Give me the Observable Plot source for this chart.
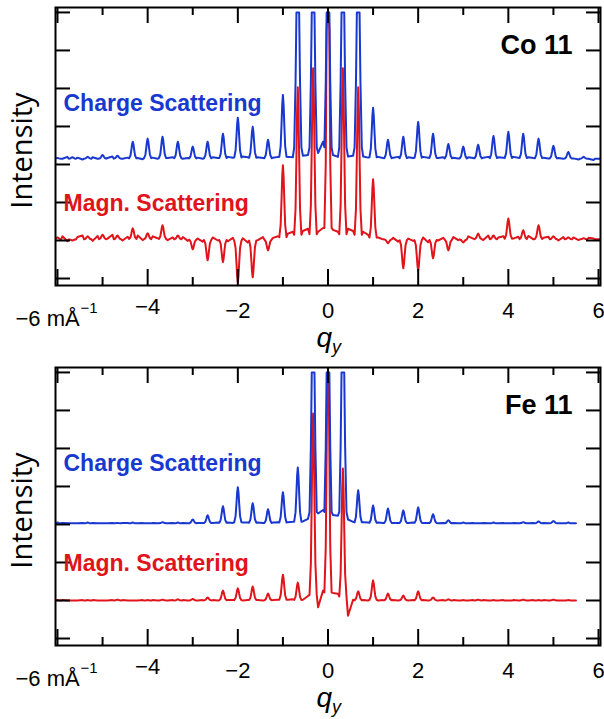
<!DOCTYPE html>
<html><head><meta charset="utf-8">
<script src="https://cdn.jsdelivr.net/npm/d3@7"></script>
<script src="https://cdn.jsdelivr.net/npm/@observablehq/plot@0.6"></script>
<style>body{margin:0;background:#fff;} #chart svg{display:block;}</style>
</head><body><div id="chart"></div>
<script>
// ---- data ----
// peak positions q_y (mÅ^-1), one every 1/3
const peakQ = [-6.00,-5.67,-5.33,-5.00,-4.67,-4.33,-4.00,-3.67,-3.33,-3.00,-2.67,-2.33,-2.00,-1.67,-1.33,-1.00,-0.67,-0.33,0.00,
  0.33,0.67,1.00,1.33,1.67,2.00,2.33,2.67,3.00,3.33,3.67,4.00,4.33,4.67,5.00,5.33,5.67,6.00];
// shared line shape of one peak: offsets in q and fraction of the peak height
const profileDx = [-0.08,-0.05,-0.03,-0.015,0,0.015,0.03,0.05,0.08];
const profileK  = [0.03,0.2,0.55,0.85,1,0.85,0.55,0.2,0.03];
const yTop = 7; // upper end of the plotted range (peaks are cut there)

// Co 11
const coChargeBase = 3.15;
const coChargeH = [0.02,0.04,0.05,0.10,0.08,0.45,0.53,0.58,0.45,0.32,0.45,0.66,1.08,0.84,0.50,1.68,10,10,10,10,10,
  1.34,0.50,0.58,0.97,0.66,0.39,0.32,0.37,0.60,0.71,0.66,0.53,0.34,0.18,0.05,0.00];
const coChargeGaps = [0.00,0.05, 0.03,-0.02, 0.04,0.00, 0.02,0.06, 0.00,0.03, 0.02,-0.01, 0.03,0.00, 0.02,0.04, 0.00,0.02,
  0.03,0.00, 0.04,0.02, 0.05,0.03, 0.06,0.04, 0.04,0.02, 0.03,0.05, 0.05,0.04, 0.08,0.10, 0.15,0.45, 0.10,0.05, 0.06,0.08,
  0.06,0.03, 0.05,0.02, 0.03,0.05, 0.04,0.02, 0.05,0.03, 0.02,0.04, 0.03,0.01, 0.04,0.02, 0.03,0.05, 0.04,0.03, 0.05,0.03,
  0.04,0.02, 0.03,0.01, 0.02,0.00, 0.01,-0.02, 0.00,-0.03];
const coMagnBase = 1.03;
const coMagnH = [0.05,-0.03,0.08,0.12,0.10,0.29,0.16,0.37,0.10,-0.26,-0.55,-0.60,-1.13,-1.00,-0.29,1.95,4.0,4.5,10,4.5,4.0,1.58,
  -0.10,-0.76,-0.82,-0.50,-0.29,-0.08,0.15,0.10,0.55,0.24,0.37,0.08,0.05,0.03,0.00];
const coMagnGaps = [0.08,-0.05, 0.06,0.10, -0.04,0.09, 0.02,0.12, -0.03,0.07, 0.10,-0.02, 0.08,0.03, -0.02,0.05, 0.06,-0.04,
  0.02,-0.06, 0.05,-0.03, -0.05,0.04, 0.03,-0.08, -0.02,0.06, 0.04,0.08, 0.15,0.20, 0.22,0.28, 0.20,0.30, 0.25,0.20, 0.28,0.22,
  0.20,0.12, 0.05,0.00, 0.04,-0.06, 0.02,-0.04, 0.05,-0.08, -0.03,0.04, 0.06,-0.02, 0.08,0.02, -0.02,0.10, 0.05,0.08, 0.02,0.07,
  0.09,0.00, 0.04,0.07, -0.03,0.06, 0.05,-0.02, 0.04,0.02];

// Fe 11
const feEndQ = 5.5;
const feChargeBase = 3.03;
const feChargeH = [0.02,0.00,0.02,0.00,0.01,0.02,0.00,0.03,0.02, 0.10,0.21,0.45,0.95,0.53,0.37,0.82,1.47, 10,10,10,
  0.87,0.47,0.39,0.34,0.42,0.24,0.08, 0.02,0.00,0.02,0.00,0.03,0.05,0.06,0.02];
const feChargeGaps = [0.01,0.00, 0.00,0.01, 0.01,0.00, 0.00,0.01, 0.01,0.01, 0.00,0.01, 0.01,0.00, 0.00,0.01, 0.01,0.00,
  0.01,0.01, 0.01,0.02, 0.02,0.01, 0.02,0.02, 0.02,0.01, 0.02,0.03, 0.03,0.04, 0.05,0.12, 0.26,0.35, 0.22,0.20, 0.10,0.04,
  0.03,0.02, 0.02,0.01, 0.01,0.01, 0.01,0.02, 0.01,0.01, 0.00,0.01, 0.01,0.00, 0.00,0.01, 0.01,0.00, 0.00,0.01, 0.01,0.00,
  0.00,0.01, 0.01,0.00, 0.00,0.00];
const feMagnBase = 1.0;
const feMagnH = [0.01,0.00,0.01,0.00,0.02,0.00,0.01,0.02,0.03, 0.04,0.08,0.26,0.32,0.37,0.18,0.68,0.47, 4.92,7.0,3.47,
  0.24,0.53,0.18,0.13,0.24,0.08,0.03, 0.01,0.02,0.01,0.00,0.02,0.01,0.02,0.01];
const feMagnGaps = [0.01,0.00, 0.00,0.01, 0.01,0.00, 0.00,0.01, 0.01,0.00, 0.00,0.01, 0.01,0.00, 0.00,0.01, 0.01,0.00,
  0.00,0.01, 0.01,0.00, 0.01,0.01, 0.00,0.01, 0.01,0.00, 0.01,0.02, 0.02,0.03, 0.02,0.12, -0.18,0.26, 0.20,0.18, -0.40,0.02,
  0.01,0.00, 0.00,0.01, 0.01,0.00, 0.00,0.01, 0.01,0.00, 0.00,0.01, 0.01,0.00, 0.00,0.01, 0.01,0.00, 0.00,0.01, 0.01,0.00,
  0.00,0.01, 0.01,0.00, 0.00,0.00];

// axes
const xMajorTicks = [-6,-4,-2,0,2,4,6];
const xMinorTicks = [-5,-3,-1,1,3,5];
const yTickValues = [0,1,2,3,4,5,6,7];
const xLabelValues = [-2,0,2,4,6];
const xLabelTexts = ["\u22122","0","2","4","6"];
const xLabelRaisedValue = [-4];
const xLabelRaisedText = ["\u22124"];
const unitLabel = ["\u22126 m\u00C5"];
const unitExp = ["\u22121"];
const panels = [
  {name: "Co 11", chargeBase: coChargeBase, chargeH: coChargeH, chargeGaps: coChargeGaps,
   magnBase: coMagnBase, magnH: coMagnH, magnGaps: coMagnGaps, endQ: null},
  {name: "Fe 11", chargeBase: feChargeBase, chargeH: feChargeH, chargeGaps: feChargeGaps,
   magnBase: feMagnBase, magnH: feMagnH, magnGaps: feMagnGaps, endQ: feEndQ}
];

const BLUE = "#1838cf", RED = "#e0141b";

function trace(base, heights, gaps, endQ) {
  const pts = [];
  for (let i = 0; i < heights.length; i++) {
    for (let k = 0; k < profileDx.length; k++) {
      pts.push({q: peakQ[i] + profileDx[k], v: Math.min(yTop, base + heights[i] * profileK[k])});
    }
    if (i < heights.length - 1) {
      const a = peakQ[i], b = peakQ[i + 1];
      pts.push({q: a + (b - a) / 3, v: base + gaps[2 * i]});
      pts.push({q: a + 2 * (b - a) / 3, v: base + gaps[2 * i + 1]});
    }
  }
  if (endQ != null) pts.push({q: endQ, v: base});
  return pts;
}

const FONT = "'Liberation Sans', Arial, Helvetica, sans-serif";
const W = 604;
const plotH = 278, plotW = 545;

function panel(p, height, marginBottom) {
  return Plot.plot({
    width: W, height,
    marginLeft: 55, marginRight: 4, marginTop: 7, marginBottom,
    x: {domain: [-6.044, 6.044], axis: null},
    y: {domain: [-0.184, 7.13], axis: null},
    style: {background: "white", fontFamily: FONT, color: "black", overflow: "visible"},
    marks: [
      Plot.line(trace(p.magnBase, p.magnH, p.magnGaps, p.endQ), {x: "q", y: "v", stroke: RED, strokeWidth: 2, clip: true}),
      Plot.line(trace(p.chargeBase, p.chargeH, p.chargeGaps, p.endQ), {x: "q", y: "v", stroke: BLUE, strokeWidth: 2, clip: true}),
      Plot.frame({stroke: "black", strokeWidth: 2}),
      // inward ticks
      Plot.tickX(xMajorTicks, {x: d => d, insetBottom: plotH - 16, stroke: "black", strokeWidth: 2}),
      Plot.tickX(xMajorTicks, {x: d => d, insetTop: plotH - 16, stroke: "black", strokeWidth: 2}),
      Plot.tickX(xMinorTicks, {x: d => d, insetBottom: plotH - 8, stroke: "black", strokeWidth: 2}),
      Plot.tickX(xMinorTicks, {x: d => d, insetTop: plotH - 8, stroke: "black", strokeWidth: 2}),
      Plot.tickY(yTickValues, {y: d => d, insetRight: plotW - 15, stroke: "black", strokeWidth: 2}),
      Plot.tickY(yTickValues, {y: d => d, insetLeft: plotW - 14, stroke: "black", strokeWidth: 2}),
      // tick labels
      Plot.text(xLabelTexts, {x: xLabelValues, text: d => d, frameAnchor: "bottom", lineAnchor: "bottom", dy: 32, fontSize: 22, fill: "black"}),
      Plot.text(xLabelRaisedText, {x: xLabelRaisedValue, text: d => d, frameAnchor: "bottom", lineAnchor: "bottom", dy: 28, fontSize: 22, fill: "black"}),
      Plot.text(unitLabel, {x: [-6], text: d => d, frameAnchor: "bottom", lineAnchor: "bottom", textAnchor: "start", dx: -42, dy: 40, fontSize: 22, fill: "black"}),
      Plot.text(unitExp, {x: [-6], text: d => d, frameAnchor: "bottom", lineAnchor: "bottom", textAnchor: "start", dx: 23, dy: 27, fontSize: 15, fill: "black"}),
      // axis titles
      Plot.text(["q"], {frameAnchor: "bottom", lineAnchor: "bottom", textAnchor: "end", dx: 4, dy: 61, fontSize: 28, fontStyle: "italic", fill: "black"}),
      Plot.text(["y"], {frameAnchor: "bottom", lineAnchor: "bottom", textAnchor: "start", dx: 4, dy: 67, fontSize: 18, fontStyle: "italic", fill: "black"}),
      Plot.text(["Intensity"], {frameAnchor: "left", rotate: -90, lineAnchor: "bottom", textAnchor: "middle", dx: -24, dy: 4, fontSize: 29, fontFamily: "'Open Sans', sans-serif", fill: "black"}),
      // annotations
      Plot.text([p.name], {frameAnchor: "top-right", textAnchor: "end", lineAnchor: "bottom", dx: -28, dy: 46, fontSize: 27, fontWeight: "bold", fill: "black"}),
      Plot.text(["Charge Scattering"], {frameAnchor: "top-left", textAnchor: "start", lineAnchor: "bottom", dx: 8, dy: 103, fontSize: 23, fontWeight: "bold", fill: BLUE, letterSpacing: "0.2px"}),
      Plot.text(["Magn. Scattering"], {frameAnchor: "top-left", textAnchor: "start", lineAnchor: "bottom", dx: 8, dy: 203, fontSize: 23, fontWeight: "bold", fill: RED, letterSpacing: "0.2px"})
    ]
  });
}

const root = document.getElementById("chart");
root.appendChild(panel(panels[0], 360, 75));
root.appendChild(panel(panels[1], 359, 74));
</script>
</body></html>
